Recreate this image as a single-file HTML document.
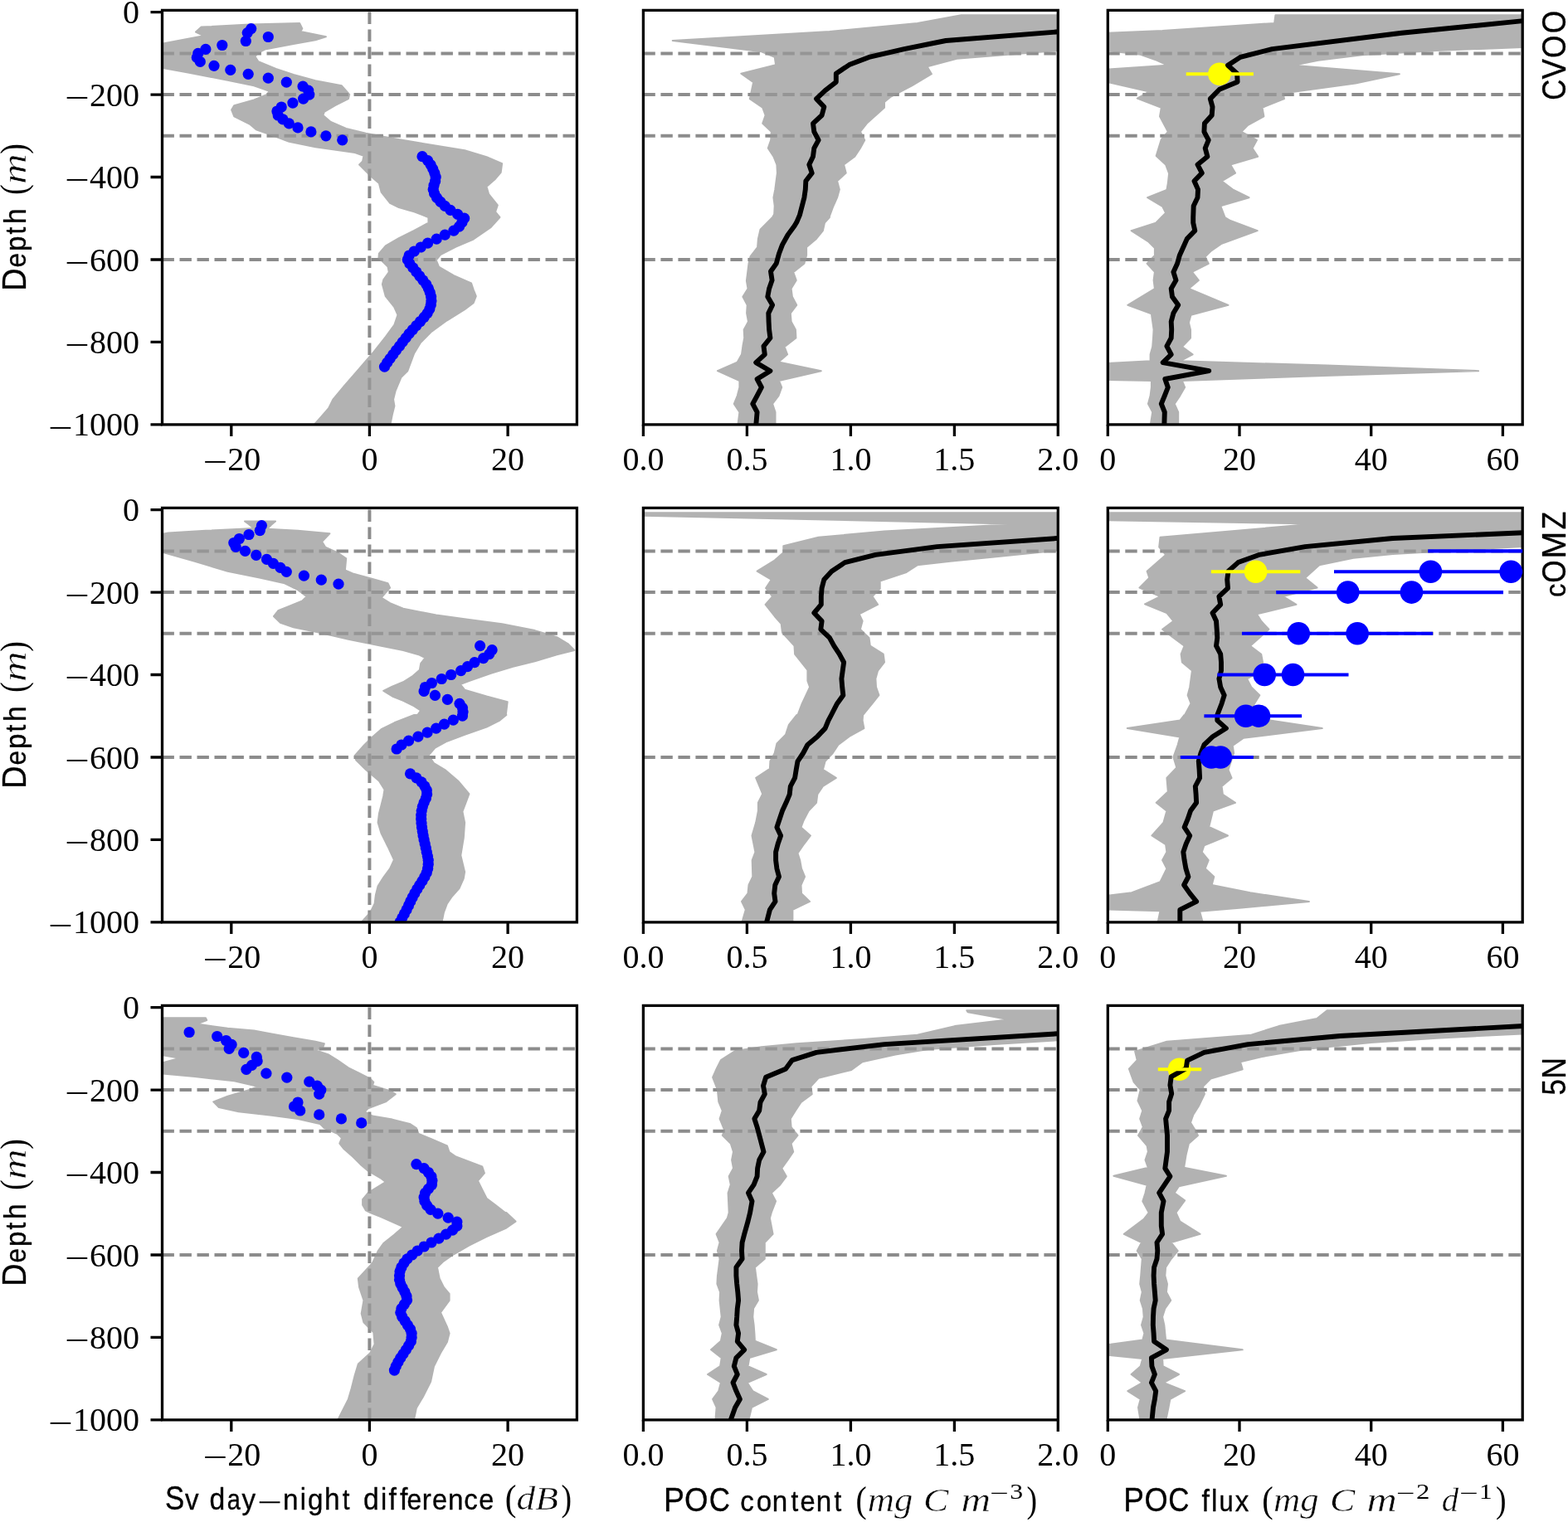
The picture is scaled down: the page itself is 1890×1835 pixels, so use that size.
<!DOCTYPE html>
<html lang="en"><head><meta charset="utf-8"><title>Sv day-night difference, POC content and POC flux profiles</title>
<style>
html,body{margin:0;padding:0;background:#fff}
svg{display:block}
.sp{fill:none;stroke:#000;stroke-width:3.3}
.tk{fill:none;stroke:#000;stroke-width:3.3}
.bd{fill:#999;stroke:#999;stroke-width:2;stroke-linejoin:round}
.dl{stroke:#8c8c8c;stroke-width:4.0;stroke-dasharray:14.4 6.6;fill:none}
.bl{fill:none;stroke:#000;stroke-width:5.9;stroke-linejoin:round;stroke-linecap:butt}
text{font-family:"Liberation Serif",serif;font-size:40.0px;fill:#000}
.sf{font-family:"Liberation Serif",serif}
.ss{font-family:"Liberation Sans",sans-serif;stroke:#000;stroke-width:.35px;stroke-linejoin:round}
.it{font-style:italic;stroke:#fff;stroke-width:.5px}
</style></head>
<body>
<svg width="1890" height="1835" viewBox="0 0 1890 1835">
<rect width="1890" height="1835" fill="#fff"/>
<defs>
<clipPath id="c00"><rect x="195.5" y="12.4" width="499.9" height="499.5"/></clipPath>
<clipPath id="c01"><rect x="775.4" y="12.4" width="499.9" height="499.5"/></clipPath>
<clipPath id="c02"><rect x="1335.3" y="12.4" width="499.9" height="499.5"/></clipPath>
<clipPath id="c10"><rect x="195.5" y="612.4" width="499.9" height="499.5"/></clipPath>
<clipPath id="c11"><rect x="775.4" y="612.4" width="499.9" height="499.5"/></clipPath>
<clipPath id="c12"><rect x="1335.3" y="612.4" width="499.9" height="499.5"/></clipPath>
<clipPath id="c20"><rect x="195.5" y="1212.4" width="499.9" height="499.5"/></clipPath>
<clipPath id="c21"><rect x="775.4" y="1212.4" width="499.9" height="499.5"/></clipPath>
<clipPath id="c22"><rect x="1335.3" y="1212.4" width="499.9" height="499.5"/></clipPath>
</defs>
<g clip-path="url(#c00)">
<line x1="195.5" y1="64.4" x2="695.4" y2="64.4" class="dl"/>
<line x1="195.5" y1="114.1" x2="695.4" y2="114.1" class="dl"/>
<line x1="195.5" y1="163.8" x2="695.4" y2="163.8" class="dl"/>
<line x1="195.5" y1="313" x2="695.4" y2="313" class="dl"/>
<line x1="445.4" y1="511.9" x2="445.4" y2="12.4" class="dl"/>
<g opacity=".75"><polygon points="242.6,32.6 236,38.5 245.3,43.2 221.5,47.7 189.7,53.8 189.7,80.8 226.7,87.4 274.4,96.7 306.1,103.3 324.6,109.9 322,113.9 306.1,120.5 282.3,127.1 279.1,132.4 282.3,140.3 300.8,149.6 308.8,156.2 327.3,162.8 348.4,170.7 380.2,177.3 427.8,184 438.4,187.9 437.1,194.5 433.1,198.5 446.3,211.7 456.9,221 459.6,231.6 470.1,244.8 480.7,250.1 499.2,255.4 516.4,262 516.4,268.6 499.2,277.9 480.7,287.1 464.8,296.4 456.9,305.7 456.4,310.9 467.5,321.5 468.8,328.1 462.2,337.4 460.9,342.7 464.8,357.2 475.4,370.5 479.4,379.7 475.4,391.6 464.8,406.2 449,426 433.1,444.5 414.6,465.7 401.3,481.6 396.1,492.2 388.1,501.4 377.5,513.3 470.1,513.3 472.8,500.1 475.4,489.5 474.1,481.6 476.7,471 483.4,455.1 491.3,447.2 499.2,426 507.2,412.8 520.4,399.6 538.9,386.3 560.1,373.1 570.7,365.2 573.8,357.2 570.7,349.3 568,341.4 546.9,332.1 528.9,321.5 525.7,313.6 531,307 549.5,297.7 570.7,288.5 591.8,273.9 602.4,262 597.1,255.4 599.8,247.4 589.2,234.2 586.5,225 597.1,215.7 603.7,207.8 605.1,197.2 586.5,189.2 560.1,181.3 512.5,173.4 472.8,166.8 441,160.7 417.2,154.9 398.7,146.9 389.4,139 390.8,135 404,127.1 419.9,119.1 421.2,113.9 411.9,103.3 380.2,97.2 353.7,90 332.6,82.9 311.4,74.2 307.4,68.1 311.4,63.6 319.3,59.6 353.7,53 380.2,48.2 392.9,44.3 362.2,37.9 364.3,34.5 361.1,27.9 300.8,29.5" class="bd"/></g>
<g fill="#0000ff"><circle cx="302.7" cy="34.6" r="6.6"/><circle cx="298.2" cy="39.6" r="6.6"/><circle cx="323.3" cy="44.5" r="6.6"/><circle cx="296.3" cy="49.5" r="6.6"/><circle cx="267.8" cy="54.5" r="6.6"/><circle cx="247.9" cy="59.4" r="6.6"/><circle cx="238.7" cy="64.4" r="6.6"/><circle cx="237.3" cy="69.4" r="6.6"/><circle cx="241.3" cy="74.4" r="6.6"/><circle cx="258" cy="79.3" r="6.6"/><circle cx="277.8" cy="84.3" r="6.6"/><circle cx="299.2" cy="89.3" r="6.6"/><circle cx="323.3" cy="94.2" r="6.6"/><circle cx="345.3" cy="99.2" r="6.6"/><circle cx="365.1" cy="104.2" r="6.6"/><circle cx="371.7" cy="109.1" r="6.6"/><circle cx="372.8" cy="114.1" r="6.6"/><circle cx="365.6" cy="119.1" r="6.6"/><circle cx="352.9" cy="124.1" r="6.6"/><circle cx="339.2" cy="129" r="6.6"/><circle cx="333.9" cy="134" r="6.6"/><circle cx="335.2" cy="139" r="6.6"/><circle cx="341" cy="143.9" r="6.6"/><circle cx="348.4" cy="148.9" r="6.6"/><circle cx="359" cy="153.9" r="6.6"/><circle cx="374.9" cy="158.9" r="6.6"/><circle cx="392.9" cy="163.8" r="6.6"/><circle cx="412.7" cy="168.8" r="6.6"/><circle cx="509" cy="188.7" r="6.6"/><circle cx="515.6" cy="193.7" r="6.6"/><circle cx="519.1" cy="198.6" r="6.6"/><circle cx="521.7" cy="203.6" r="6.6"/><circle cx="523.8" cy="208.6" r="6.6"/><circle cx="525.2" cy="213.5" r="6.6"/><circle cx="524.6" cy="218.5" r="6.6"/><circle cx="523" cy="223.5" r="6.6"/><circle cx="522.2" cy="228.5" r="6.6"/><circle cx="523.6" cy="233.4" r="6.6"/><circle cx="526.5" cy="238.4" r="6.6"/><circle cx="531" cy="243.4" r="6.6"/><circle cx="536.3" cy="248.3" r="6.6"/><circle cx="542.9" cy="253.3" r="6.6"/><circle cx="551.6" cy="258.3" r="6.6"/><circle cx="559.6" cy="263.2" r="6.6"/><circle cx="556.9" cy="268.2" r="6.6"/><circle cx="553.5" cy="273.2" r="6.6"/><circle cx="546.9" cy="278.2" r="6.6"/><circle cx="536.3" cy="283.1" r="6.6"/><circle cx="526.2" cy="288.1" r="6.6"/><circle cx="515.6" cy="293.1" r="6.6"/><circle cx="507.2" cy="298" r="6.6"/><circle cx="499.2" cy="303" r="6.6"/><circle cx="493.1" cy="308" r="6.6"/><circle cx="491.3" cy="313" r="6.6"/><circle cx="493.9" cy="317.9" r="6.6"/><circle cx="497.9" cy="322.9" r="6.6"/><circle cx="501.9" cy="327.9" r="6.6"/><circle cx="505.8" cy="332.8" r="6.6"/><circle cx="509.8" cy="337.8" r="6.6"/><circle cx="513.8" cy="342.8" r="6.6"/><circle cx="516.4" cy="347.8" r="6.6"/><circle cx="518.3" cy="352.7" r="6.6"/><circle cx="519.6" cy="357.7" r="6.6"/><circle cx="519.9" cy="362.7" r="6.6"/><circle cx="519.3" cy="367.6" r="6.6"/><circle cx="517.8" cy="372.6" r="6.6"/><circle cx="515.1" cy="377.6" r="6.6"/><circle cx="511.1" cy="382.6" r="6.6"/><circle cx="506.6" cy="387.5" r="6.6"/><circle cx="501.9" cy="392.5" r="6.6"/><circle cx="497.4" cy="397.5" r="6.6"/><circle cx="493.1" cy="402.4" r="6.6"/><circle cx="489.2" cy="407.4" r="6.6"/><circle cx="485.2" cy="412.4" r="6.6"/><circle cx="481.5" cy="417.4" r="6.6"/><circle cx="477.5" cy="422.3" r="6.6"/><circle cx="473.8" cy="427.3" r="6.6"/><circle cx="470.1" cy="432.3" r="6.6"/><circle cx="466.7" cy="437.2" r="6.6"/><circle cx="463.5" cy="442.2" r="6.6"/></g>
</g>
<rect x="195.5" y="12.4" width="499.9" height="499.5" class="sp"/>
<path d="M278.8 511.9v14M445.4 511.9v14M612.1 511.9v14M195.5 14.7h-14M195.5 114.1h-14M195.5 213.5h-14M195.5 313h-14M195.5 412.4h-14M195.5 511.8h-14" class="tk"/>
<text class="sf" style="font-size:40px"><tspan class="sf" style="font-size:40px" x="244.42" y="570.1" textLength="29.84" lengthAdjust="spacingAndGlyphs">−</tspan><tspan x="274.37" y="566.8">20</tspan></text>
<text class="sf" style="font-size:40px" x="445.45" y="566.8" text-anchor="middle">0</text>
<text class="sf" style="font-size:40px" x="612.08" y="566.8" text-anchor="middle">20</text>
<text class="sf" style="font-size:40px" x="167.9" y="28.3" text-anchor="end">0</text>
<text class="sf" style="font-size:40px"><tspan class="sf" style="font-size:40px" x="77.95" y="131.02" textLength="29.84" lengthAdjust="spacingAndGlyphs">−</tspan><tspan x="107.9" y="127.72">200</tspan></text>
<text class="sf" style="font-size:40px"><tspan class="sf" style="font-size:40px" x="77.95" y="230.44" textLength="29.84" lengthAdjust="spacingAndGlyphs">−</tspan><tspan x="107.9" y="227.14">400</tspan></text>
<text class="sf" style="font-size:40px"><tspan class="sf" style="font-size:40px" x="77.95" y="329.86" textLength="29.84" lengthAdjust="spacingAndGlyphs">−</tspan><tspan x="107.9" y="326.56">600</tspan></text>
<text class="sf" style="font-size:40px"><tspan class="sf" style="font-size:40px" x="77.95" y="429.28" textLength="29.84" lengthAdjust="spacingAndGlyphs">−</tspan><tspan x="107.9" y="425.98">800</tspan></text>
<text class="sf" style="font-size:40px"><tspan class="sf" style="font-size:40px" x="57.95" y="528.7" textLength="29.84" lengthAdjust="spacingAndGlyphs">−</tspan><tspan x="87.9" y="525.4">1000</tspan></text>
<g clip-path="url(#c01)">
<line x1="775.4" y1="64.4" x2="1275.3" y2="64.4" class="dl"/>
<line x1="775.4" y1="114.1" x2="1275.3" y2="114.1" class="dl"/>
<line x1="775.4" y1="163.8" x2="1275.3" y2="163.8" class="dl"/>
<line x1="775.4" y1="313" x2="1275.3" y2="313" class="dl"/>
<g opacity=".75"><polygon points="1158.6,18.3 1105.7,28.1 999.9,37.9 810.7,49 917.9,62.3 933.7,68.9 935.1,78.1 893.3,88.7 908.1,99.3 906,109.1 903.8,119.1 919.2,129.7 922.6,139 919.2,148.8 929.8,158.8 929.2,168.9 925.8,178.7 932.4,188.7 936.4,198.5 936.9,208.6 935.6,218.3 934.3,228.4 932.4,238.2 933.7,248.2 933.2,258.3 931.1,262 916.5,276.6 913.9,287.9 913.1,298 904.6,309.1 902.5,317.8 899.9,338.7 901.5,348 895.4,357.8 900.7,367.8 900.1,377.6 902,387.7 896.7,397.4 897.2,407.5 895.4,417.3 894,427.3 888.8,436.6 864.9,447.2 891.4,459.1 891.4,467 888.8,477.1 884.8,486.9 891.4,496.9 889.3,513.3 934.5,513.3 934.5,496.9 931.1,486.9 938.5,477.1 942.2,467 939,459.1 989.8,447.2 938.5,436.6 949.1,427.3 945.6,418.1 959.4,407.5 958.9,397.4 953.6,387.7 952.8,377.6 960.2,367.8 954.9,357.8 953.6,348 959.7,337.9 956.2,328.1 969.4,317.8 972.1,308 972.1,298 984,287.9 991.9,278.1 994,268.6 999.9,262 999.9,260.7 1003.8,250.1 1009.1,238.2 1011.8,228.4 1009.1,218.3 1019.7,208.6 1017.1,198.5 1030.3,188.7 1036.9,178.7 1042.2,168.9 1036.9,158.8 1044.8,148.8 1066,129.7 1066,123.1 1073.9,116.5 1099.1,103.3 1122.9,89.2 1117.6,80.3 1153.3,70.7 1275,60.9 1304.1,59.6 1304.1,18.3" class="bd"/></g>
<polyline points="1277.6,38.2 1140.1,49 1089.8,59.1 1047.5,68.9 1023.7,78.1 1007.8,88.7 1007.8,98.8 994.6,109.1 984,119.1 993.3,128.9 990.6,139 980,148.8 981.3,158.8 986.6,168.9 981.3,178.7 980,188.7 975.3,198.5 978.7,208.6 971.3,218.3 970.8,228.4 969.4,238.2 966.8,248.2 963.9,259.4 960.2,268.1 957.5,272.6 949.6,283.2 943,295.1 939,305.7 935.8,317.6 929,327.3 930.6,337.9 927.1,348 925.3,357.8 931.1,367.8 926.3,377.6 926.6,387.7 927.1,397.4 928.4,407.5 920.5,417.3 921.8,427.3 911.2,437.1 928.4,447.2 912.6,457 917.9,467 912.6,477.1 907.3,486.9 912.6,496.9 911.2,513.3" class="bl"/>
</g>
<rect x="775.4" y="12.4" width="499.9" height="499.5" class="sp"/>
<path d="M775.4 511.9v14M900.4 511.9v14M1025.4 511.9v14M1150.4 511.9v14M1275.3 511.9v14" class="tk"/>
<text class="sf" style="font-size:40px" x="775.4" y="566.8" text-anchor="middle">0.0</text>
<text class="sf" style="font-size:40px" x="900.39" y="566.8" text-anchor="middle">0.5</text>
<text class="sf" style="font-size:40px" x="1025.38" y="566.8" text-anchor="middle">1.0</text>
<text class="sf" style="font-size:40px" x="1150.36" y="566.8" text-anchor="middle">1.5</text>
<text class="sf" style="font-size:40px" x="1275.35" y="566.8" text-anchor="middle">2.0</text>
<g clip-path="url(#c02)">
<line x1="1335.3" y1="64.4" x2="1835.2" y2="64.4" class="dl"/>
<line x1="1335.3" y1="114.1" x2="1835.2" y2="114.1" class="dl"/>
<line x1="1335.3" y1="163.8" x2="1835.2" y2="163.8" class="dl"/>
<line x1="1335.3" y1="313" x2="1835.2" y2="313" class="dl"/>
<g opacity=".75"><polygon points="1537.4,18.3 1536.1,27.9 1401.1,37.1 1324.4,40.3 1324.4,60.7 1336.3,61.2 1374.7,65.7 1394.5,72.8 1407,78.7 1336.3,83.4 1324.4,84 1324.4,98.2 1336.3,99.3 1385.3,110.4 1370.7,118.6 1399.8,129.7 1398,140.3 1407.8,158.8 1399.8,168.1 1393.7,187.9 1405.1,198.5 1409.1,209.1 1407.8,221 1406.4,228.9 1383.1,238.2 1401.1,248.8 1405.1,256.7 1399.8,262 1393.2,268.6 1363.6,278.1 1383.9,291.1 1391.9,299 1391.9,308 1382.6,317.8 1391.9,327.9 1390.6,337.9 1391.9,348 1359.3,367.8 1387.9,378.4 1389.2,387.7 1390.6,397.4 1390,407.5 1389.2,418.1 1386.6,427.3 1386.6,435.3 1324.4,438.5 1324.4,457.8 1387.9,459.1 1387.9,467 1386.6,477.1 1383.9,486.9 1389.2,496.9 1386.6,513.3 1420.2,513.3 1420.2,496.9 1415.7,486.9 1422.3,477.1 1428.1,467 1424.9,459.1 1573.1,453.8 1782.1,447.2 1599.6,440.6 1422.3,435.3 1437.6,427.3 1424.9,418.1 1435,407.5 1435,397.4 1432.9,389 1435.5,379.7 1480.5,367.8 1432.9,348 1444.8,337.9 1436.9,327.9 1456.7,317.8 1452.7,309.6 1459.3,303 1472.6,293.7 1515.7,278.1 1483.1,266 1476.5,262 1471.2,248.2 1505.6,238.2 1485.8,228.4 1472.6,218.3 1489,208.6 1483.1,198.5 1516.2,188.7 1509.6,178.7 1514.9,168.9 1496.4,158.8 1504.3,150.9 1523.4,140.3 1521.5,129.7 1548,119.1 1546.6,112.5 1633.9,100.6 1686.9,89.2 1559.1,78.7 1589,72.8 1641.9,66.2 1731.8,60.9 1835,57 1864.1,55.7 1864.1,18.3" class="bd"/></g>
<circle cx="1469.9" cy="89.3" r="13.8" fill="#ffff00"/>
<polyline points="1837.6,25 1689.5,39.8 1533.4,59.1 1495.1,68.9 1480,78.7 1491.1,88.7 1491.6,98.8 1469.9,107.8 1458.8,119.1 1461.5,128.9 1460.7,139 1451.9,148.8 1451.4,158.8 1456.7,168.9 1452.7,178.7 1455.4,188.7 1443.5,198.5 1448.8,208.6 1439.5,218.3 1444,228.4 1443.5,238.2 1438.7,248.2 1438.2,262 1438.2,268.6 1440.3,278.1 1430.8,287.9 1426.3,298 1421.8,308 1419.1,317.8 1414.4,327.9 1417.5,337.9 1411.7,348 1413,357.8 1420.2,367.8 1414.4,377.6 1411.7,387.7 1412.2,397.4 1411.7,407.5 1406.4,417.3 1411.7,427.3 1401.7,437.1 1457.2,447.2 1404.3,457 1407.8,467 1403.8,477.1 1399.8,486.9 1403.8,496.9 1403.3,513.3" class="bl"/>
</g>
<rect x="1335.3" y="12.4" width="499.9" height="499.5" class="sp"/>
<g clip-path="url(#c02)">
<line x1="1429.7" y1="89.3" x2="1510.9" y2="89.3" stroke="#ffff00" stroke-width="4.1"/>
</g>
<path d="M1335.3 511.9v14M1494 511.9v14M1652.7 511.9v14M1811.4 511.9v14" class="tk"/>
<text class="sf" style="font-size:40px" x="1335.3" y="566.8" text-anchor="middle">0</text>
<text class="sf" style="font-size:40px" x="1494" y="566.8" text-anchor="middle">20</text>
<text class="sf" style="font-size:40px" x="1652.7" y="566.8" text-anchor="middle">40</text>
<text class="sf" style="font-size:40px" x="1811.4" y="566.8" text-anchor="middle">60</text>
<g clip-path="url(#c10)">
<line x1="195.5" y1="664.4" x2="695.4" y2="664.4" class="dl"/>
<line x1="195.5" y1="714.1" x2="695.4" y2="714.1" class="dl"/>
<line x1="195.5" y1="763.8" x2="695.4" y2="763.8" class="dl"/>
<line x1="195.5" y1="913" x2="695.4" y2="913" class="dl"/>
<line x1="445.4" y1="1111.9" x2="445.4" y2="612.4" class="dl"/>
<g opacity=".75"><polygon points="295,628.4 299.5,631.8 306.1,637.1 247.9,639.8 202.9,642.4 189.7,645.1 189.7,666.2 197.6,666.2 234.7,676.8 274.4,688.7 314,696.7 343.1,703.3 359,711.2 369.6,719.1 364.3,724.4 348.4,731 335.2,736.3 329.9,743 337.9,750.9 353.7,756.2 385.5,762.8 419.9,770.7 459.6,778.7 486,784 504.5,789.2 512.5,793.2 507.2,799.8 505.8,807.8 496.6,815.7 486,822.3 472.8,827.6 462.2,832.9 472.8,839.5 486,844.8 499.2,851.4 507.2,856.7 503.2,862 499.2,862 475.4,871.3 459.6,879.2 449,888.5 438.4,899 427.8,910.9 429.1,916.2 441,928.1 456.9,941.4 463.5,951.9 462.2,959.9 459.6,970.5 456.9,981 455.6,991.6 459.6,1004.9 467.5,1020.7 474.9,1036.6 470.1,1047.2 462.2,1057.8 455.6,1068.3 452.9,1078.9 451.6,1089.5 446.3,1100.1 434.4,1113.3 532.3,1113.3 534.9,1100.1 538.9,1089.5 544.2,1081.6 553.5,1071 558.8,1059.1 560.1,1051.2 555.3,1031.3 558.8,1010.1 560.1,991.6 557.4,978.4 561.4,967.8 565.4,957.2 552.1,941.4 536.3,928.1 523,920.2 516.4,910.9 524.4,901.7 538.9,893.7 560.1,885.8 586.5,876.6 602.4,868.6 610.3,862 609.8,862 611.7,846.1 586.5,839.5 560.1,831.6 554.8,825 565.4,821 591.8,811.7 618.3,803.8 644.7,797.2 671.2,789.2 692.4,784 684.4,776 671.2,768.1 644.7,760.1 605.1,752.2 565.4,746.9 525.7,741.6 486,733.7 470.1,727.1 459.6,720.5 470.1,708.6 467.5,703.3 449,698 425.2,691.4 415.9,687.4 417.2,673.4 406.6,666.2 392.1,659.6 388.1,653 397.4,643.2 359,639.8 322,637.7 327.3,632.6 332,628.4" class="bd"/></g>
<g fill="#0000ff"><circle cx="315.4" cy="633.6" r="6.6"/><circle cx="313.3" cy="639.6" r="6.6"/><circle cx="300" cy="644.5" r="6.6"/><circle cx="288.4" cy="649.5" r="6.6"/><circle cx="281.8" cy="654.5" r="6.6"/><circle cx="284.2" cy="659.4" r="6.6"/><circle cx="295.5" cy="664.4" r="6.6"/><circle cx="308.8" cy="669.4" r="6.6"/><circle cx="321.5" cy="674.4" r="6.6"/><circle cx="329.4" cy="679.3" r="6.6"/><circle cx="337.9" cy="684.3" r="6.6"/><circle cx="345.3" cy="689.3" r="6.6"/><circle cx="366.4" cy="694.2" r="6.6"/><circle cx="387.3" cy="699.2" r="6.6"/><circle cx="408" cy="704.2" r="6.6"/><circle cx="578.6" cy="778.7" r="6.6"/><circle cx="593.1" cy="783.7" r="6.6"/><circle cx="589.7" cy="788.7" r="6.6"/><circle cx="582.6" cy="793.7" r="6.6"/><circle cx="572" cy="798.6" r="6.6"/><circle cx="563.5" cy="803.6" r="6.6"/><circle cx="555.6" cy="808.6" r="6.6"/><circle cx="543.7" cy="813.5" r="6.6"/><circle cx="532.3" cy="818.5" r="6.6"/><circle cx="520.4" cy="823.5" r="6.6"/><circle cx="512.5" cy="828.5" r="6.6"/><circle cx="511.1" cy="833.4" r="6.6"/><circle cx="524.4" cy="838.4" r="6.6"/><circle cx="539.4" cy="843.4" r="6.6"/><circle cx="554" cy="848.3" r="6.6"/><circle cx="557.4" cy="853.3" r="6.6"/><circle cx="558" cy="858.3" r="6.6"/><circle cx="557.4" cy="863.2" r="6.6"/><circle cx="546.3" cy="868.2" r="6.6"/><circle cx="535.5" cy="873.2" r="6.6"/><circle cx="525.7" cy="878.2" r="6.6"/><circle cx="515.1" cy="883.1" r="6.6"/><circle cx="504" cy="888.1" r="6.6"/><circle cx="492.6" cy="893.1" r="6.6"/><circle cx="483.9" cy="898" r="6.6"/><circle cx="478.1" cy="903" r="6.6"/><circle cx="494.5" cy="932.8" r="6.6"/><circle cx="501.9" cy="937.8" r="6.6"/><circle cx="508" cy="942.8" r="6.6"/><circle cx="511.9" cy="947.8" r="6.6"/><circle cx="514.3" cy="952.7" r="6.6"/><circle cx="514.6" cy="957.7" r="6.6"/><circle cx="513.3" cy="962.7" r="6.6"/><circle cx="511.1" cy="967.6" r="6.6"/><circle cx="509.3" cy="972.6" r="6.6"/><circle cx="508.2" cy="977.6" r="6.6"/><circle cx="507.7" cy="982.6" r="6.6"/><circle cx="507.7" cy="987.5" r="6.6"/><circle cx="508" cy="992.5" r="6.6"/><circle cx="508.5" cy="997.5" r="6.6"/><circle cx="509.3" cy="1002.4" r="6.6"/><circle cx="510.1" cy="1007.4" r="6.6"/><circle cx="511.1" cy="1012.4" r="6.6"/><circle cx="512.2" cy="1017.4" r="6.6"/><circle cx="513.3" cy="1022.3" r="6.6"/><circle cx="514.3" cy="1027.3" r="6.6"/><circle cx="515.4" cy="1032.3" r="6.6"/><circle cx="516.2" cy="1037.2" r="6.6"/><circle cx="516.2" cy="1042.2" r="6.6"/><circle cx="515.6" cy="1047.2" r="6.6"/><circle cx="514.3" cy="1052.1" r="6.6"/><circle cx="511.9" cy="1057.1" r="6.6"/><circle cx="509" cy="1062.1" r="6.6"/><circle cx="505.8" cy="1067.1" r="6.6"/><circle cx="502.7" cy="1072" r="6.6"/><circle cx="499.8" cy="1077" r="6.6"/><circle cx="497.1" cy="1082" r="6.6"/><circle cx="494.7" cy="1086.9" r="6.6"/><circle cx="492.4" cy="1091.9" r="6.6"/><circle cx="490" cy="1096.9" r="6.6"/><circle cx="487.3" cy="1101.9" r="6.6"/><circle cx="484.7" cy="1106.8" r="6.6"/><circle cx="482" cy="1111.8" r="6.6"/></g>
</g>
<rect x="195.5" y="612.4" width="499.9" height="499.5" class="sp"/>
<path d="M278.8 1111.9v14M445.4 1111.9v14M612.1 1111.9v14M195.5 614.7h-14M195.5 714.1h-14M195.5 813.5h-14M195.5 913h-14M195.5 1012.4h-14M195.5 1111.8h-14" class="tk"/>
<text class="sf" style="font-size:40px"><tspan class="sf" style="font-size:40px" x="244.42" y="1170.1" textLength="29.84" lengthAdjust="spacingAndGlyphs">−</tspan><tspan x="274.37" y="1166.8">20</tspan></text>
<text class="sf" style="font-size:40px" x="445.45" y="1166.8" text-anchor="middle">0</text>
<text class="sf" style="font-size:40px" x="612.08" y="1166.8" text-anchor="middle">20</text>
<text class="sf" style="font-size:40px" x="167.9" y="628.3" text-anchor="end">0</text>
<text class="sf" style="font-size:40px"><tspan class="sf" style="font-size:40px" x="77.95" y="731.02" textLength="29.84" lengthAdjust="spacingAndGlyphs">−</tspan><tspan x="107.9" y="727.72">200</tspan></text>
<text class="sf" style="font-size:40px"><tspan class="sf" style="font-size:40px" x="77.95" y="830.44" textLength="29.84" lengthAdjust="spacingAndGlyphs">−</tspan><tspan x="107.9" y="827.14">400</tspan></text>
<text class="sf" style="font-size:40px"><tspan class="sf" style="font-size:40px" x="77.95" y="929.86" textLength="29.84" lengthAdjust="spacingAndGlyphs">−</tspan><tspan x="107.9" y="926.56">600</tspan></text>
<text class="sf" style="font-size:40px"><tspan class="sf" style="font-size:40px" x="77.95" y="1029.28" textLength="29.84" lengthAdjust="spacingAndGlyphs">−</tspan><tspan x="107.9" y="1025.98">800</tspan></text>
<text class="sf" style="font-size:40px"><tspan class="sf" style="font-size:40px" x="57.95" y="1128.7" textLength="29.84" lengthAdjust="spacingAndGlyphs">−</tspan><tspan x="87.9" y="1125.4">1000</tspan></text>
<g clip-path="url(#c11)">
<line x1="775.4" y1="664.4" x2="1275.3" y2="664.4" class="dl"/>
<line x1="775.4" y1="714.1" x2="1275.3" y2="714.1" class="dl"/>
<line x1="775.4" y1="763.8" x2="1275.3" y2="763.8" class="dl"/>
<line x1="775.4" y1="913" x2="1275.3" y2="913" class="dl"/>
<g opacity=".75"><polygon points="625.8,618.3 1226.9,631.8 1066,640.6 986.6,647.7 944.3,658.3 944.3,666.2 933.7,675.5 912.6,688.7 929.8,698.8 923.1,709.1 931.1,719.1 922.6,728.9 933.7,743 941.7,752.2 943,762.8 957.5,778.7 958.1,788.7 973.4,807.8 973.4,821 976.1,828.4 966.8,848.2 961.5,862 960.2,862 950.9,873.9 947,885.8 936.4,896.4 933.7,908 928.4,917.8 927.9,926.8 911.2,937.9 919.2,957.2 913.9,967.8 913.9,977.6 911.2,991.6 906.5,1007.5 910.4,1027.3 906.7,1037.1 907.3,1057 902.5,1067 901.5,1077.1 894,1086.9 898.8,1096.9 894,1113.3 955.4,1113.3 955.4,1096.9 976.1,1086.9 966,1077.1 965.5,1067 970,1057 966,1047.2 964.2,1037.1 961.5,1028.7 969.4,1017.3 976.9,1007.5 965.5,997.4 968.7,989 974.7,977.6 984,967.8 985.3,957.8 991.9,948 1007.8,937.9 991.9,927.9 994.6,917.8 1003.8,908 1010.4,898 1023.7,887.9 1041.4,878.1 1039.6,868.6 1040.1,862 1051.5,848.2 1059.4,838.2 1056,828.4 1055.4,818.3 1058.1,808.6 1066,798.5 1064.7,788.7 1048.8,778.7 1047.5,768.9 1036.9,758.8 1039.6,748.8 1035.6,740.3 1058.1,728.9 1051.5,719.1 1060.7,709.9 1060.7,700.6 1092.5,690 1105.7,681.3 1145.4,676.8 1198.3,671.5 1275,663.6 1304.1,662.3 1304.1,618.3" class="bd"/></g>
<polyline points="1277.6,648.8 1129.5,659.1 1055.4,668.9 1018.4,678.1 1002.5,688.7 993.3,698.8 990.6,709.1 989.8,719.1 989.8,728.9 981.3,739 990.6,748.8 989.3,758.8 999.9,768.9 1005.2,778.7 1011.8,788.7 1017.1,798.5 1015.7,808.6 1014.4,818.3 1015.2,828.4 1016.3,838.2 1009.1,848.2 1002,862 998.5,868.6 994.6,878.1 985.3,887.9 973.4,898 968.1,908 961.5,917.8 959.7,927.9 958.1,937.9 952.8,948 951.7,957.8 947.5,967.8 943,977.6 939.6,987.7 936.4,997.4 941.1,1007.5 937.7,1017.3 935.1,1027.3 935.1,1037.1 936.4,1047.2 939,1057 934.3,1067 933.2,1077.1 934.5,1086.9 927.9,1096.9 923.7,1113.3" class="bl"/>
</g>
<rect x="775.4" y="612.4" width="499.9" height="499.5" class="sp"/>
<path d="M775.4 1111.9v14M900.4 1111.9v14M1025.4 1111.9v14M1150.4 1111.9v14M1275.3 1111.9v14" class="tk"/>
<text class="sf" style="font-size:40px" x="775.4" y="1166.8" text-anchor="middle">0.0</text>
<text class="sf" style="font-size:40px" x="900.39" y="1166.8" text-anchor="middle">0.5</text>
<text class="sf" style="font-size:40px" x="1025.38" y="1166.8" text-anchor="middle">1.0</text>
<text class="sf" style="font-size:40px" x="1150.36" y="1166.8" text-anchor="middle">1.5</text>
<text class="sf" style="font-size:40px" x="1275.35" y="1166.8" text-anchor="middle">2.0</text>
<g clip-path="url(#c12)">
<line x1="1335.3" y1="664.4" x2="1835.2" y2="664.4" class="dl"/>
<line x1="1335.3" y1="714.1" x2="1835.2" y2="714.1" class="dl"/>
<line x1="1335.3" y1="763.8" x2="1835.2" y2="763.8" class="dl"/>
<line x1="1335.3" y1="913" x2="1835.2" y2="913" class="dl"/>
<g opacity=".75"><polygon points="805.9,618.3 1584.2,631.6 1398.5,647.7 1397.2,659.6 1405.1,668.9 1382.6,688.7 1385.3,696.7 1373.4,708.6 1398.5,719.1 1380,728.4 1406.4,739 1414.4,748.8 1401.1,758.8 1414.4,768.9 1427.6,778.7 1423.6,788.7 1424.9,798.5 1436.9,808.6 1434.2,828.4 1431.6,838.2 1435.5,848.2 1428.1,862 1427.6,862 1422.3,868.6 1358.8,878.1 1422.3,888.5 1419.7,898 1414.4,912.8 1418.3,925.5 1406.4,937.9 1407.8,954.6 1393.7,967.8 1406.4,977.6 1402.5,991.6 1388.4,1007.5 1405.1,1018.1 1406.4,1027.3 1401.1,1037.1 1406.4,1047.2 1398.5,1063.1 1364.1,1076.3 1324.4,1081 1324.4,1096.1 1398.5,1098.2 1395.3,1113.3 1450.1,1113.3 1446.1,1098.8 1493.7,1094.8 1577.9,1086.9 1507,1076.3 1460.7,1067 1463.3,1057 1452.7,1047.2 1456.7,1037.1 1448.8,1027.3 1451.4,1019.4 1480,1007.5 1457.2,996.9 1462,977.6 1489,967.8 1473.9,957.8 1472.6,948 1484.5,937.9 1480.5,928.1 1487.1,908.3 1485.8,899 1499,889.8 1593.7,878.1 1530.8,868.6 1520.2,862 1518.9,862 1510.9,850.1 1518.3,838.2 1508.3,828.4 1503,818.3 1521.5,808.6 1522,798.5 1520.2,788.7 1507,778.7 1529.4,758.8 1520.2,748.8 1514.9,740.3 1562.5,728.9 1546.6,719.1 1587.6,708.6 1573.1,696.7 1590.3,681.3 1631.3,672.8 1678.9,668.1 1731.8,664.9 1835,659.1 1864.1,657.5 1864.1,618.3" class="bd"/></g>
<circle cx="1513.6" cy="689.3" r="13.8" fill="#ffff00"/>
<polyline points="1837.6,642.2 1678.9,649 1573.1,659.1 1517.5,668.9 1492.4,678.1 1480.5,688.7 1479.2,698.8 1480,709.1 1469.4,719.1 1471.2,728.9 1461.5,739 1466,748.8 1466.7,758.8 1467.3,768.9 1466,778.7 1471.2,788.7 1472,798.5 1472,808.6 1469.4,818.3 1471.2,828.4 1475.7,838.2 1472.6,848.2 1467.3,862 1467.3,868.6 1477.9,878.1 1462,887.9 1451.4,898 1447.4,908 1444.8,917.8 1445.6,927.9 1446.1,937.9 1440.8,948 1441.6,957.8 1442.1,967.8 1435,977.6 1431.6,987.7 1427.6,997.4 1434.2,1007.5 1429.7,1017.3 1426.3,1027.3 1427.6,1037.1 1429.4,1047.2 1432.4,1057 1427.1,1067 1434.2,1077.1 1442.1,1086.9 1422.3,1096.9 1422.3,1113.3" class="bl"/>
</g>
<rect x="1335.3" y="612.4" width="499.9" height="499.5" class="sp"/>
<g clip-path="url(#c12)">
<circle cx="1864.1" cy="664.4" r="13.8" fill="#0000ff"/>
<circle cx="1943.5" cy="664.4" r="13.8" fill="#0000ff"/>
<circle cx="1724.4" cy="689.3" r="13.8" fill="#0000ff"/>
<circle cx="1821.2" cy="689.3" r="13.8" fill="#0000ff"/>
<circle cx="1624.7" cy="714.1" r="13.8" fill="#0000ff"/>
<circle cx="1701.4" cy="714.1" r="13.8" fill="#0000ff"/>
<circle cx="1565.2" cy="763.8" r="13.8" fill="#0000ff"/>
<circle cx="1636.1" cy="763.8" r="13.8" fill="#0000ff"/>
<circle cx="1524.2" cy="813.5" r="13.8" fill="#0000ff"/>
<circle cx="1558.5" cy="813.5" r="13.8" fill="#0000ff"/>
<circle cx="1501.7" cy="863.2" r="13.8" fill="#0000ff"/>
<circle cx="1517.5" cy="863.2" r="13.8" fill="#0000ff"/>
<circle cx="1460.1" cy="913" r="13.8" fill="#0000ff"/>
<circle cx="1471.2" cy="913" r="13.8" fill="#0000ff"/>
<line x1="1459.9" y1="689.3" x2="1567.3" y2="689.3" stroke="#ffff00" stroke-width="4.1"/>
<line x1="1721.2" y1="664.4" x2="1969.9" y2="664.4" stroke="#0000ff" stroke-width="4.1"/>
<line x1="1608" y1="689.3" x2="1969.9" y2="689.3" stroke="#0000ff" stroke-width="4.1"/>
<line x1="1538.2" y1="714.1" x2="1812" y2="714.1" stroke="#0000ff" stroke-width="4.1"/>
<line x1="1496.9" y1="763.8" x2="1727.1" y2="763.8" stroke="#0000ff" stroke-width="4.1"/>
<line x1="1467.3" y1="813.5" x2="1625.5" y2="813.5" stroke="#0000ff" stroke-width="4.1"/>
<line x1="1451.4" y1="863.2" x2="1569.1" y2="863.2" stroke="#0000ff" stroke-width="4.1"/>
<line x1="1422.8" y1="913" x2="1510.9" y2="913" stroke="#0000ff" stroke-width="4.1"/>
</g>
<path d="M1335.3 1111.9v14M1494 1111.9v14M1652.7 1111.9v14M1811.4 1111.9v14" class="tk"/>
<text class="sf" style="font-size:40px" x="1335.3" y="1166.8" text-anchor="middle">0</text>
<text class="sf" style="font-size:40px" x="1494" y="1166.8" text-anchor="middle">20</text>
<text class="sf" style="font-size:40px" x="1652.7" y="1166.8" text-anchor="middle">40</text>
<text class="sf" style="font-size:40px" x="1811.4" y="1166.8" text-anchor="middle">60</text>
<g clip-path="url(#c20)">
<line x1="195.5" y1="1264.4" x2="695.4" y2="1264.4" class="dl"/>
<line x1="195.5" y1="1314.1" x2="695.4" y2="1314.1" class="dl"/>
<line x1="195.5" y1="1363.8" x2="695.4" y2="1363.8" class="dl"/>
<line x1="195.5" y1="1513" x2="695.4" y2="1513" class="dl"/>
<line x1="445.4" y1="1711.9" x2="445.4" y2="1212.4" class="dl"/>
<g opacity=".75"><polygon points="189.7,1227.3 189.7,1271.8 196.3,1272.3 216.7,1275.8 196.3,1281.3 189.7,1281.8 189.7,1294 196.3,1294.5 234.7,1298 282.3,1303.3 311.4,1309.9 300.8,1313.9 274.4,1321.8 257.2,1328.4 263.8,1335 287.6,1340.3 327.3,1344.8 359,1349 385.5,1354.9 390.8,1360.1 406.6,1366.8 411.9,1372.1 409.3,1378.7 414.6,1385.3 425.2,1394.5 435.7,1405.1 443.7,1411.7 459.6,1421 464.8,1425 454.3,1431.6 443.7,1438.2 437.1,1446.1 437.1,1452.7 441,1459.4 446.3,1462 446.3,1462 459.6,1467.3 486,1479.2 475.4,1488.5 462.2,1499 455.6,1508.3 449,1522.8 431.8,1541.4 433.1,1551.9 438.4,1567.8 435.7,1583.7 438.4,1594.3 450.3,1606.2 451.6,1620.7 446.3,1631.3 431.8,1644.5 427.8,1657.8 423.8,1673.6 419.9,1686.9 411.9,1702.7 406.6,1713.3 498.7,1713.3 501.9,1697.4 509.8,1684.2 519.1,1665.7 523,1647.2 531,1631.3 538.9,1618.1 541.6,1607.5 538.9,1599.6 531,1582.4 541.6,1567.8 541.6,1559.9 534.9,1551.9 529.7,1541.4 527,1528.1 533.6,1521.5 546.9,1512.3 565.4,1501.7 586.5,1491.1 610.3,1480.5 621.5,1472.6 610.3,1462 609,1462 597.1,1452.7 586.5,1444.8 581.2,1434.2 576,1423.6 583.9,1414.4 581.2,1406.4 549.5,1394.5 541.6,1389.2 538.9,1381.3 520.4,1373.4 504.5,1366.8 501.9,1360.1 493.9,1354.9 472.8,1349.6 449,1345.6 439.7,1340.3 443.7,1336.3 464.8,1328.4 476.7,1319.1 470.1,1315.2 449,1308.6 450.3,1304.6 446.3,1300.6 433.1,1294 419.9,1287.4 406.6,1278.1 396.1,1271.5 380.2,1266.2 389.4,1262.3 390.8,1258.3 380.2,1255.7 353.7,1251.2 327.3,1246.4 306.1,1242.4 274.4,1239.8 237.3,1234.5 249.2,1230 247.9,1227.3" class="bd"/></g>
<g fill="#0000ff"><circle cx="228.1" cy="1244.5" r="6.6"/><circle cx="261.7" cy="1249.5" r="6.6"/><circle cx="272.5" cy="1254.5" r="6.6"/><circle cx="279.1" cy="1259.4" r="6.6"/><circle cx="276.2" cy="1264.4" r="6.6"/><circle cx="293.7" cy="1269.4" r="6.6"/><circle cx="309.3" cy="1274.4" r="6.6"/><circle cx="310.1" cy="1279.3" r="6.6"/><circle cx="303.5" cy="1284.3" r="6.6"/><circle cx="296.9" cy="1289.3" r="6.6"/><circle cx="320.9" cy="1294.2" r="6.6"/><circle cx="345.8" cy="1299.2" r="6.6"/><circle cx="372.8" cy="1304.2" r="6.6"/><circle cx="382.3" cy="1309.1" r="6.6"/><circle cx="386.8" cy="1314.1" r="6.6"/><circle cx="384.7" cy="1319.1" r="6.6"/><circle cx="359" cy="1329" r="6.6"/><circle cx="354.5" cy="1334" r="6.6"/><circle cx="361.7" cy="1339" r="6.6"/><circle cx="384.7" cy="1343.9" r="6.6"/><circle cx="411.4" cy="1348.9" r="6.6"/><circle cx="435.7" cy="1353.9" r="6.6"/><circle cx="501.9" cy="1403.6" r="6.6"/><circle cx="511.1" cy="1408.6" r="6.6"/><circle cx="516.4" cy="1413.5" r="6.6"/><circle cx="519.9" cy="1418.5" r="6.6"/><circle cx="520.9" cy="1423.5" r="6.6"/><circle cx="520.4" cy="1428.5" r="6.6"/><circle cx="516.4" cy="1433.4" r="6.6"/><circle cx="512.5" cy="1438.4" r="6.6"/><circle cx="511.1" cy="1443.4" r="6.6"/><circle cx="511.9" cy="1448.3" r="6.6"/><circle cx="514.6" cy="1453.3" r="6.6"/><circle cx="519.1" cy="1458.3" r="6.6"/><circle cx="527.8" cy="1463.2" r="6.6"/><circle cx="540.2" cy="1468.2" r="6.6"/><circle cx="550.8" cy="1473.2" r="6.6"/><circle cx="550.8" cy="1478.2" r="6.6"/><circle cx="545.5" cy="1483.1" r="6.6"/><circle cx="537.6" cy="1488.1" r="6.6"/><circle cx="528.9" cy="1493.1" r="6.6"/><circle cx="519.9" cy="1498" r="6.6"/><circle cx="511.1" cy="1503" r="6.6"/><circle cx="503.2" cy="1508" r="6.6"/><circle cx="496.6" cy="1513" r="6.6"/><circle cx="490.8" cy="1517.9" r="6.6"/><circle cx="486.8" cy="1522.9" r="6.6"/><circle cx="483.9" cy="1527.9" r="6.6"/><circle cx="482" cy="1532.8" r="6.6"/><circle cx="481.5" cy="1537.8" r="6.6"/><circle cx="481.5" cy="1542.8" r="6.6"/><circle cx="482.8" cy="1547.8" r="6.6"/><circle cx="485.2" cy="1552.7" r="6.6"/><circle cx="487.9" cy="1557.7" r="6.6"/><circle cx="490" cy="1562.7" r="6.6"/><circle cx="490.5" cy="1567.6" r="6.6"/><circle cx="487.3" cy="1572.6" r="6.6"/><circle cx="483.9" cy="1577.6" r="6.6"/><circle cx="482.8" cy="1582.6" r="6.6"/><circle cx="484.7" cy="1587.5" r="6.6"/><circle cx="488.1" cy="1592.5" r="6.6"/><circle cx="491.3" cy="1597.5" r="6.6"/><circle cx="494.5" cy="1602.4" r="6.6"/><circle cx="496.1" cy="1607.4" r="6.6"/><circle cx="496.1" cy="1612.4" r="6.6"/><circle cx="495.3" cy="1617.4" r="6.6"/><circle cx="492.6" cy="1622.3" r="6.6"/><circle cx="489.4" cy="1627.3" r="6.6"/><circle cx="486" cy="1632.3" r="6.6"/><circle cx="482.8" cy="1637.2" r="6.6"/><circle cx="479.9" cy="1642.2" r="6.6"/><circle cx="477.3" cy="1647.2" r="6.6"/><circle cx="475.4" cy="1652.1" r="6.6"/></g>
</g>
<rect x="195.5" y="1212.4" width="499.9" height="499.5" class="sp"/>
<path d="M278.8 1711.9v14M445.4 1711.9v14M612.1 1711.9v14M195.5 1214.7h-14M195.5 1314.1h-14M195.5 1413.5h-14M195.5 1513h-14M195.5 1612.4h-14M195.5 1711.8h-14" class="tk"/>
<text class="sf" style="font-size:40px"><tspan class="sf" style="font-size:40px" x="244.42" y="1770.1" textLength="29.84" lengthAdjust="spacingAndGlyphs">−</tspan><tspan x="274.37" y="1766.8">20</tspan></text>
<text class="sf" style="font-size:40px" x="445.45" y="1766.8" text-anchor="middle">0</text>
<text class="sf" style="font-size:40px" x="612.08" y="1766.8" text-anchor="middle">20</text>
<text class="sf" style="font-size:40px" x="167.9" y="1228.3" text-anchor="end">0</text>
<text class="sf" style="font-size:40px"><tspan class="sf" style="font-size:40px" x="77.95" y="1331.02" textLength="29.84" lengthAdjust="spacingAndGlyphs">−</tspan><tspan x="107.9" y="1327.72">200</tspan></text>
<text class="sf" style="font-size:40px"><tspan class="sf" style="font-size:40px" x="77.95" y="1430.44" textLength="29.84" lengthAdjust="spacingAndGlyphs">−</tspan><tspan x="107.9" y="1427.14">400</tspan></text>
<text class="sf" style="font-size:40px"><tspan class="sf" style="font-size:40px" x="77.95" y="1529.86" textLength="29.84" lengthAdjust="spacingAndGlyphs">−</tspan><tspan x="107.9" y="1526.56">600</tspan></text>
<text class="sf" style="font-size:40px"><tspan class="sf" style="font-size:40px" x="77.95" y="1629.28" textLength="29.84" lengthAdjust="spacingAndGlyphs">−</tspan><tspan x="107.9" y="1625.98">800</tspan></text>
<text class="sf" style="font-size:40px"><tspan class="sf" style="font-size:40px" x="57.95" y="1728.7" textLength="29.84" lengthAdjust="spacingAndGlyphs">−</tspan><tspan x="87.9" y="1725.4">1000</tspan></text>
<g clip-path="url(#c21)">
<line x1="775.4" y1="1264.4" x2="1275.3" y2="1264.4" class="dl"/>
<line x1="775.4" y1="1314.1" x2="1275.3" y2="1314.1" class="dl"/>
<line x1="775.4" y1="1363.8" x2="1275.3" y2="1363.8" class="dl"/>
<line x1="775.4" y1="1513" x2="1275.3" y2="1513" class="dl"/>
<g opacity=".75"><polygon points="1165.2,1218.3 1166.5,1220.2 1216,1229.2 1150.7,1237.1 1105.7,1247.7 1039.6,1253 960.2,1258.3 917.9,1262.3 886.1,1267 868.9,1278.1 863.6,1288.7 859.1,1298.8 864.9,1313.9 866.3,1328.4 870.8,1339 867.6,1348.8 873.4,1362.8 870.8,1368.9 880.8,1378.7 884,1388.7 882.1,1398.5 884,1408.6 878.7,1418.3 880.8,1428.4 877.6,1438.2 878.7,1462 876.9,1468.6 863.6,1487.9 867.6,1498 864.9,1508 867.6,1517.8 864.9,1538.7 864.4,1548 868.1,1557.8 867.6,1567.8 869.7,1587.7 867.1,1597.4 870.8,1607.5 868.9,1616.8 857,1627.3 869.7,1637.1 868.1,1647.2 853,1657 868.9,1667 866.3,1677.1 859.1,1686.9 863.6,1696.9 862.3,1713.3 902,1713.3 906,1696.9 925.8,1686.9 907.3,1677.1 900.7,1667 923.7,1657 901.5,1647.2 903.3,1637.1 935.8,1627.3 909.9,1616.8 909.4,1607.5 908.6,1597.4 907.3,1587.7 908.1,1577.6 913.9,1567.8 912,1557.8 912.6,1548 911.2,1537.9 909.9,1527.9 921.8,1517.8 921.8,1498 931.6,1487.9 927.9,1468.6 929.8,1462 935.1,1448.2 929.8,1438.2 940.3,1428.4 947.8,1418.3 942.2,1408.6 949.6,1398.5 956.2,1388.7 953.6,1378.7 961.5,1368.9 953.6,1358.8 952.8,1348.8 958.9,1339 965.5,1328.9 978.7,1319.1 977.4,1309.9 986.6,1299.8 1026.3,1290 1039.6,1280.3 1079.2,1271.5 1118.9,1264.9 1198.3,1259.1 1275,1254.3 1304.1,1253 1304.1,1218.3" class="bd"/></g>
<polyline points="1277.6,1246.1 1066,1259.1 984,1268.9 954.9,1278.1 947,1288.7 923.1,1298.8 920,1309.1 921.8,1319.1 916.5,1328.9 915.2,1339 909.4,1348.8 912.6,1358.8 916.5,1373.4 920.5,1388.7 915.2,1398.5 913.1,1408.6 912.6,1418.3 908.6,1428.4 902,1438.2 906.5,1448.2 904.1,1462 901.5,1472.6 897.2,1487.9 894.6,1498 894,1508 894.6,1517.8 887.4,1527.9 887.4,1537.9 888.2,1548 889.3,1557.8 890.1,1567.8 888.8,1577.6 888.2,1587.7 887.4,1597.4 890.1,1607.5 888.8,1617.3 897.2,1627.3 887.4,1637.1 884.8,1647.2 888.8,1657 883.5,1667 887.4,1677.1 891.9,1686.9 886.1,1696.9 880.3,1713.3" class="bl"/>
</g>
<rect x="775.4" y="1212.4" width="499.9" height="499.5" class="sp"/>
<path d="M775.4 1711.9v14M900.4 1711.9v14M1025.4 1711.9v14M1150.4 1711.9v14M1275.3 1711.9v14" class="tk"/>
<text class="sf" style="font-size:40px" x="775.4" y="1766.8" text-anchor="middle">0.0</text>
<text class="sf" style="font-size:40px" x="900.39" y="1766.8" text-anchor="middle">0.5</text>
<text class="sf" style="font-size:40px" x="1025.38" y="1766.8" text-anchor="middle">1.0</text>
<text class="sf" style="font-size:40px" x="1150.36" y="1766.8" text-anchor="middle">1.5</text>
<text class="sf" style="font-size:40px" x="1275.35" y="1766.8" text-anchor="middle">2.0</text>
<g clip-path="url(#c22)">
<line x1="1335.3" y1="1264.4" x2="1835.2" y2="1264.4" class="dl"/>
<line x1="1335.3" y1="1314.1" x2="1835.2" y2="1314.1" class="dl"/>
<line x1="1335.3" y1="1363.8" x2="1835.2" y2="1363.8" class="dl"/>
<line x1="1335.3" y1="1513" x2="1835.2" y2="1513" class="dl"/>
<g opacity=".75"><polygon points="1599.6,1218.3 1587.6,1227.9 1541.3,1237.1 1508.3,1247.7 1406.4,1255.7 1368.1,1267.6 1370.7,1278.1 1360.9,1288.7 1366.7,1304.6 1374.7,1313.9 1371.5,1327.1 1377.3,1339 1374.2,1348.8 1377.9,1358.8 1372,1368.9 1382.6,1381.3 1383.9,1388.7 1380.5,1398.5 1383.9,1407.8 1342.4,1417.8 1382.6,1428.9 1380.5,1438.2 1377.3,1448.2 1384.7,1462 1378.7,1469.9 1354.8,1487.9 1376,1498 1370.7,1508 1376.8,1517.8 1376,1527.9 1375.2,1537.9 1374.2,1548 1376.8,1557.8 1374.7,1567.8 1377.9,1577.6 1378.7,1587.7 1376,1597.4 1379.4,1607.5 1377.3,1615.4 1324.4,1622.8 1324.4,1632.6 1377.3,1637.9 1374.7,1647.2 1363.6,1657 1376.8,1667 1359.3,1677.1 1374.7,1686.9 1372,1696.9 1374.7,1713.3 1405.1,1713.3 1408.5,1696.9 1410.4,1686.9 1428.1,1677.1 1402.5,1667 1421,1657 1401.7,1647.2 1401.1,1637.9 1497.7,1627.3 1405.1,1615.4 1404.3,1607.5 1403.3,1597.4 1401.1,1587.7 1404.3,1577.6 1411.2,1567.8 1405.9,1557.8 1407,1548 1404.3,1537.9 1405.1,1527.9 1411.7,1517.8 1419.7,1508 1411.7,1498 1446.6,1487.9 1422.3,1472.6 1417.5,1462 1428.1,1447.4 1415.7,1438.2 1421,1430.3 1477.9,1417.8 1427.1,1407.8 1429.7,1391.9 1432.9,1378.7 1444,1368.9 1440.8,1362.8 1435,1353.5 1438.2,1344.3 1444.8,1333.7 1451.9,1319.1 1450.1,1309.9 1459.3,1300.6 1497.7,1289.2 1495.1,1280.3 1520.2,1274.2 1573.1,1264.9 1652.5,1257 1731.8,1251.7 1835,1246.4 1864.1,1245.1 1864.1,1218.3" class="bd"/></g>
<circle cx="1421.5" cy="1289.3" r="13.8" fill="#ffff00"/>
<polyline points="1837.6,1236.9 1615.4,1249 1504.3,1259.1 1451.4,1268.9 1431,1278.7 1429.7,1288.2 1411.7,1298.2 1410.4,1308.3 1412.2,1318.6 1409.1,1328.4 1409.1,1339 1405.1,1348.8 1407,1368.9 1407,1388.7 1404.3,1408.6 1410.4,1418.3 1397.2,1438.2 1402.5,1448.2 1399.8,1462 1399.8,1478.1 1401.1,1487.9 1394.5,1498 1395.3,1508 1394.5,1517.8 1391.1,1527.9 1390.6,1537.9 1391.1,1548 1391.9,1557.8 1392.7,1567.8 1390.6,1577.6 1390,1587.7 1389.8,1597.4 1390.6,1607.5 1391.1,1617.3 1405.9,1627.3 1387.9,1637.1 1388.4,1647.2 1391.9,1657 1387.9,1667 1393.2,1677.1 1391.9,1686.9 1390,1696.9 1388.4,1713.3" class="bl"/>
</g>
<rect x="1335.3" y="1212.4" width="499.9" height="499.5" class="sp"/>
<g clip-path="url(#c22)">
<line x1="1395.8" y1="1289.3" x2="1448.2" y2="1289.3" stroke="#ffff00" stroke-width="4.1"/>
</g>
<path d="M1335.3 1711.9v14M1494 1711.9v14M1652.7 1711.9v14M1811.4 1711.9v14" class="tk"/>
<text class="sf" style="font-size:40px" x="1335.3" y="1766.8" text-anchor="middle">0</text>
<text class="sf" style="font-size:40px" x="1494" y="1766.8" text-anchor="middle">20</text>
<text class="sf" style="font-size:40px" x="1652.7" y="1766.8" text-anchor="middle">40</text>
<text class="sf" style="font-size:40px" x="1811.4" y="1766.8" text-anchor="middle">60</text>
<text><tspan class="ss" style="font-size:41.5px" x="198.96" y="1820.2" textLength="23.25" lengthAdjust="spacingAndGlyphs">S</tspan><tspan class="ss" style="font-size:34.5px" x="223.12" y="1820.2" textLength="16.56" lengthAdjust="spacingAndGlyphs">v</tspan> <tspan class="ss" style="font-size:37.5px" x="252.62" y="1820.2" textLength="18.77" lengthAdjust="spacingAndGlyphs">d</tspan><tspan class="ss" style="font-size:34.5px" x="273.74" y="1820.2" textLength="16.12" lengthAdjust="spacingAndGlyphs">a</tspan><tspan class="ss" style="font-size:34.5px" x="291.47" y="1820.2" textLength="16.56" lengthAdjust="spacingAndGlyphs">y</tspan><tspan class="ss" style="font-size:24px" x="313.1" y="1816.7" textLength="24.15" lengthAdjust="spacingAndGlyphs">–</tspan><tspan class="ss" style="font-size:34.5px" x="340.97" y="1820.2" textLength="18.42" lengthAdjust="spacingAndGlyphs">n</tspan><tspan class="ss" style="font-size:36px" x="361.65" y="1820.2" textLength="7.2" lengthAdjust="spacingAndGlyphs">i</tspan><tspan class="ss" style="font-size:34.5px" x="371.04" y="1820.2" textLength="18.42" lengthAdjust="spacingAndGlyphs">g</tspan><tspan class="ss" style="font-size:37.5px" x="391.07" y="1820.2" textLength="18.54" lengthAdjust="spacingAndGlyphs">h</tspan><tspan class="ss" style="font-size:35px" x="412.86" y="1820.2" textLength="8.75" lengthAdjust="spacingAndGlyphs">t</tspan> <tspan class="ss" style="font-size:37.5px" x="437.92" y="1820.2" textLength="18.77" lengthAdjust="spacingAndGlyphs">d</tspan><tspan class="ss" style="font-size:36px" x="459" y="1820.2" textLength="7.2" lengthAdjust="spacingAndGlyphs">i</tspan><tspan class="ss" style="font-size:37.5px" x="468.62" y="1820.2" textLength="9.38" lengthAdjust="spacingAndGlyphs">f</tspan><tspan class="ss" style="font-size:37.5px" x="482.07" y="1820.2" textLength="9.38" lengthAdjust="spacingAndGlyphs">f</tspan><tspan class="ss" style="font-size:34.5px" x="490.54" y="1820.2" textLength="17.75" lengthAdjust="spacingAndGlyphs">e</tspan><tspan class="ss" style="font-size:34.5px" x="508.87" y="1820.2" textLength="11.03" lengthAdjust="spacingAndGlyphs">r</tspan><tspan class="ss" style="font-size:34.5px" x="520.92" y="1820.2" textLength="18.11" lengthAdjust="spacingAndGlyphs">e</tspan><tspan class="ss" style="font-size:34.5px" x="539.97" y="1820.2" textLength="18.42" lengthAdjust="spacingAndGlyphs">n</tspan><tspan class="ss" style="font-size:34.5px" x="559.27" y="1820.2" textLength="16.56" lengthAdjust="spacingAndGlyphs">c</tspan><tspan class="ss" style="font-size:34.5px" x="577.22" y="1820.2" textLength="18.11" lengthAdjust="spacingAndGlyphs">e</tspan> <tspan class="sf" style="font-size:44px" x="608.75" y="1820.6" textLength="13.71" lengthAdjust="spacingAndGlyphs">(</tspan><tspan class="sf it" style="font-size:41px" x="622.64" y="1820.2" textLength="50.41" lengthAdjust="spacingAndGlyphs">dB</tspan><tspan class="sf" style="font-size:44px" x="676.38" y="1820.6" textLength="12.54" lengthAdjust="spacingAndGlyphs">)</tspan></text>
<text><tspan class="ss" style="font-size:41.5px" x="799.92" y="1822.2" textLength="24.93" lengthAdjust="spacingAndGlyphs">P</tspan><tspan class="ss" style="font-size:41.5px" x="824.96" y="1822.2" textLength="28.49" lengthAdjust="spacingAndGlyphs">O</tspan><tspan class="ss" style="font-size:41.5px" x="854.83" y="1822.2" textLength="25.18" lengthAdjust="spacingAndGlyphs">C</tspan> <tspan class="ss" style="font-size:34.5px" x="892.27" y="1822.2" textLength="16.56" lengthAdjust="spacingAndGlyphs">c</tspan><tspan class="ss" style="font-size:34.5px" x="911.67" y="1822.2" textLength="18.42" lengthAdjust="spacingAndGlyphs">o</tspan><tspan class="ss" style="font-size:34.5px" x="930.77" y="1822.2" textLength="18.42" lengthAdjust="spacingAndGlyphs">n</tspan><tspan class="ss" style="font-size:35px" x="953.51" y="1822.2" textLength="8.75" lengthAdjust="spacingAndGlyphs">t</tspan><tspan class="ss" style="font-size:34.5px" x="964.62" y="1822.2" textLength="18.11" lengthAdjust="spacingAndGlyphs">e</tspan><tspan class="ss" style="font-size:34.5px" x="983.67" y="1822.2" textLength="18.42" lengthAdjust="spacingAndGlyphs">n</tspan><tspan class="ss" style="font-size:35px" x="1005.56" y="1822.2" textLength="8.75" lengthAdjust="spacingAndGlyphs">t</tspan> <tspan class="sf" style="font-size:44px" x="1031.42" y="1822.6" textLength="13.19" lengthAdjust="spacingAndGlyphs">(</tspan><tspan class="sf it" style="font-size:41px" x="1045.82" y="1822.2" textLength="54.6" lengthAdjust="spacingAndGlyphs">mg</tspan> <tspan class="sf it" style="font-size:41px" x="1113.1" y="1822.2" textLength="30.34" lengthAdjust="spacingAndGlyphs">C</tspan> <tspan class="sf it" style="font-size:41px" x="1158.45" y="1822.2" textLength="35.63" lengthAdjust="spacingAndGlyphs">m</tspan><tspan class="sf" style="font-size:26px" x="1193.4" y="1809.1" textLength="22.56" lengthAdjust="spacingAndGlyphs">−</tspan><tspan class="sf" style="font-size:26px" x="1217.29" y="1807.2" textLength="15.88" lengthAdjust="spacingAndGlyphs">3</tspan><tspan class="sf" style="font-size:44px" x="1237.48" y="1822.6" textLength="12.54" lengthAdjust="spacingAndGlyphs">)</tspan></text>
<text><tspan class="ss" style="font-size:41.5px" x="1354.35" y="1822.2" textLength="24.68" lengthAdjust="spacingAndGlyphs">P</tspan><tspan class="ss" style="font-size:41.5px" x="1379.48" y="1822.2" textLength="28.15" lengthAdjust="spacingAndGlyphs">O</tspan><tspan class="ss" style="font-size:41.5px" x="1408.13" y="1822.2" textLength="25.18" lengthAdjust="spacingAndGlyphs">C</tspan> <tspan class="ss" style="font-size:37.5px" x="1448.52" y="1822.2" textLength="9.38" lengthAdjust="spacingAndGlyphs">f</tspan><tspan class="ss" style="font-size:37.5px" x="1459.96" y="1822.2" textLength="7.36" lengthAdjust="spacingAndGlyphs">l</tspan><tspan class="ss" style="font-size:34.5px" x="1469.5" y="1822.2" textLength="17.14" lengthAdjust="spacingAndGlyphs">u</tspan><tspan class="ss" style="font-size:34.5px" x="1488.82" y="1822.2" textLength="16.56" lengthAdjust="spacingAndGlyphs">x</tspan> <tspan class="sf" style="font-size:44px" x="1521.18" y="1822.6" textLength="13.45" lengthAdjust="spacingAndGlyphs">(</tspan><tspan class="sf it" style="font-size:41px" x="1535.02" y="1822.2" textLength="54.6" lengthAdjust="spacingAndGlyphs">mg</tspan> <tspan class="sf it" style="font-size:41px" x="1603" y="1822.2" textLength="30.34" lengthAdjust="spacingAndGlyphs">C</tspan> <tspan class="sf it" style="font-size:41px" x="1647.61" y="1822.2" textLength="36.31" lengthAdjust="spacingAndGlyphs">m</tspan><tspan class="sf" style="font-size:26px" x="1683.2" y="1809.1" textLength="22.56" lengthAdjust="spacingAndGlyphs">−</tspan><tspan class="sf" style="font-size:26px" x="1707.13" y="1807.2" textLength="16.38" lengthAdjust="spacingAndGlyphs">2</tspan> <tspan class="sf it" style="font-size:41px" x="1737.67" y="1822.2" textLength="20.42" lengthAdjust="spacingAndGlyphs">d</tspan><tspan class="sf" style="font-size:26px" x="1759.6" y="1809.1" textLength="22.56" lengthAdjust="spacingAndGlyphs">−</tspan><tspan class="sf" style="font-size:26px" x="1782.97" y="1807.2" textLength="15.6" lengthAdjust="spacingAndGlyphs">1</tspan><tspan class="sf" style="font-size:44px" x="1802.98" y="1822.6" textLength="12.54" lengthAdjust="spacingAndGlyphs">)</tspan></text>
<text transform="rotate(-90)"><tspan class="ss" style="font-size:41.5px" x="-350.96" y="30.9" textLength="27.67" lengthAdjust="spacingAndGlyphs">D</tspan><tspan class="ss" style="font-size:34.5px" x="-322.43" y="30.9" textLength="17.4" lengthAdjust="spacingAndGlyphs">e</tspan><tspan class="ss" style="font-size:34.5px" x="-302.95" y="30.9" textLength="18.42" lengthAdjust="spacingAndGlyphs">p</tspan><tspan class="ss" style="font-size:35px" x="-282.54" y="30.9" textLength="8.75" lengthAdjust="spacingAndGlyphs">t</tspan><tspan class="ss" style="font-size:37.5px" x="-269.95" y="30.9" textLength="18.77" lengthAdjust="spacingAndGlyphs">h</tspan> <tspan class="sf" style="font-size:44px" x="-234.91" y="31.3" textLength="12.67" lengthAdjust="spacingAndGlyphs">(</tspan><tspan class="sf it" style="font-size:41px" x="-222" y="30.9" textLength="36.64" lengthAdjust="spacingAndGlyphs">m</tspan><tspan class="sf" style="font-size:44px" x="-185.82" y="31.3" textLength="12.54" lengthAdjust="spacingAndGlyphs">)</tspan></text>
<text transform="rotate(-90)"><tspan class="ss" style="font-size:41.5px" x="-950.96" y="30.9" textLength="27.67" lengthAdjust="spacingAndGlyphs">D</tspan><tspan class="ss" style="font-size:34.5px" x="-922.43" y="30.9" textLength="17.4" lengthAdjust="spacingAndGlyphs">e</tspan><tspan class="ss" style="font-size:34.5px" x="-902.95" y="30.9" textLength="18.42" lengthAdjust="spacingAndGlyphs">p</tspan><tspan class="ss" style="font-size:35px" x="-882.54" y="30.9" textLength="8.75" lengthAdjust="spacingAndGlyphs">t</tspan><tspan class="ss" style="font-size:37.5px" x="-869.95" y="30.9" textLength="18.77" lengthAdjust="spacingAndGlyphs">h</tspan> <tspan class="sf" style="font-size:44px" x="-834.91" y="31.3" textLength="12.67" lengthAdjust="spacingAndGlyphs">(</tspan><tspan class="sf it" style="font-size:41px" x="-822" y="30.9" textLength="36.64" lengthAdjust="spacingAndGlyphs">m</tspan><tspan class="sf" style="font-size:44px" x="-785.82" y="31.3" textLength="12.54" lengthAdjust="spacingAndGlyphs">)</tspan></text>
<text transform="rotate(-90)"><tspan class="ss" style="font-size:41.5px" x="-1550.96" y="30.9" textLength="27.67" lengthAdjust="spacingAndGlyphs">D</tspan><tspan class="ss" style="font-size:34.5px" x="-1522.43" y="30.9" textLength="17.4" lengthAdjust="spacingAndGlyphs">e</tspan><tspan class="ss" style="font-size:34.5px" x="-1502.95" y="30.9" textLength="18.42" lengthAdjust="spacingAndGlyphs">p</tspan><tspan class="ss" style="font-size:35px" x="-1482.54" y="30.9" textLength="8.75" lengthAdjust="spacingAndGlyphs">t</tspan><tspan class="ss" style="font-size:37.5px" x="-1469.95" y="30.9" textLength="18.77" lengthAdjust="spacingAndGlyphs">h</tspan> <tspan class="sf" style="font-size:44px" x="-1434.91" y="31.3" textLength="12.67" lengthAdjust="spacingAndGlyphs">(</tspan><tspan class="sf it" style="font-size:41px" x="-1422" y="30.9" textLength="36.64" lengthAdjust="spacingAndGlyphs">m</tspan><tspan class="sf" style="font-size:44px" x="-1385.82" y="31.3" textLength="12.54" lengthAdjust="spacingAndGlyphs">)</tspan></text>
<text transform="rotate(-90)"><tspan class="ss" style="font-size:41.5px" x="-120.72" y="1887.1" textLength="25.18" lengthAdjust="spacingAndGlyphs">C</tspan><tspan class="ss" style="font-size:41.5px" x="-95.58" y="1887.1" textLength="24.45" lengthAdjust="spacingAndGlyphs">V</tspan><tspan class="ss" style="font-size:41.5px" x="-69.97" y="1887.1" textLength="27.35" lengthAdjust="spacingAndGlyphs">O</tspan><tspan class="ss" style="font-size:41.5px" x="-40.17" y="1887.1" textLength="27.35" lengthAdjust="spacingAndGlyphs">O</tspan></text>
<text transform="rotate(-90)"><tspan class="ss" style="font-size:34.5px" x="-719.99" y="1887.1" textLength="16.4" lengthAdjust="spacingAndGlyphs">c</tspan><tspan class="ss" style="font-size:41.5px" x="-702.77" y="1887.1" textLength="27.35" lengthAdjust="spacingAndGlyphs">O</tspan><tspan class="ss" style="font-size:41.5px" x="-673.45" y="1887.1" textLength="32.82" lengthAdjust="spacingAndGlyphs">M</tspan><tspan class="ss" style="font-size:41.5px" x="-638.56" y="1887.1" textLength="21.76" lengthAdjust="spacingAndGlyphs">Z</tspan></text>
<text transform="rotate(-90)"><tspan class="ss" style="font-size:41.5px" x="-1320.47" y="1887.1" textLength="19.39" lengthAdjust="spacingAndGlyphs">5</tspan><tspan class="ss" style="font-size:41.5px" x="-1300.64" y="1887.1" textLength="25.78" lengthAdjust="spacingAndGlyphs">N</tspan></text>
</svg>
</body></html>
